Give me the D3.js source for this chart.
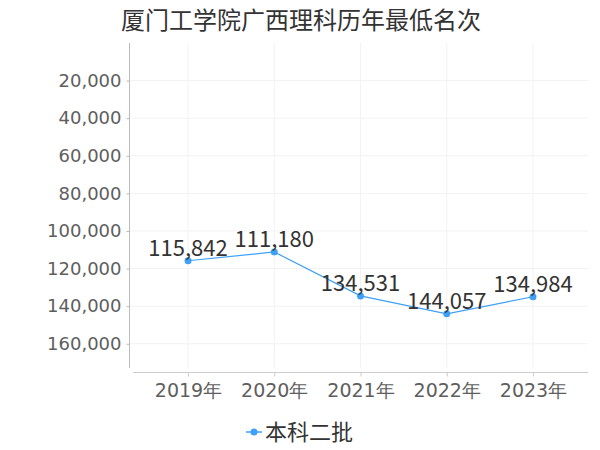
<!DOCTYPE html>
<html>
<head>
<meta charset="utf-8">
<script src="https://cdn.jsdelivr.net/npm/d3@7"></script>
<style>
  html, body { margin: 0; padding: 0; background: #fff; }
  svg { display: block; }
</style>
</head>
<body>
<svg id="chart" width="600" height="450"></svg>
<script>
const title = "厦门工学院广西理科历年最低名次";
const years = ["2019年", "2020年", "2021年", "2022年", "2023年"];
const seriesName = "本科二批";
const values = [115842, 111180, 134531, 144057, 134984];
const yTicks = [20000, 40000, 60000, 80000, 100000, 120000, 140000, 160000];

const svg = d3.select("#chart");
const color = "#3ea0f7";
const fontNum = "'DejaVu Sans', sans-serif";
const fontCJK = "'Noto Sans CJK SC', sans-serif";

const x = d3.scalePoint().domain(years).range([133, 588]).padding(0.638);
const y = d3.scaleLinear().domain([0, 172900]).range([43, 368]);

// grid
const grid = svg.append("g");
grid.selectAll("line.h").data(yTicks).enter().append("line")
  .attr("x1", 130).attr("x2", 588)
  .attr("y1", d => y(d)).attr("y2", d => y(d))
  .attr("stroke", "#f2f2f2").attr("stroke-width", 1);
grid.selectAll("line.v").data(years).enter().append("line")
  .attr("x1", d => x(d)).attr("x2", d => x(d))
  .attr("y1", 43).attr("y2", 368)
  .attr("stroke", "#f2f2f2").attr("stroke-width", 1);

// y axis
const yAxis = svg.append("g").attr("transform", "translate(129.5,0)")
  .call(d3.axisLeft(y).tickValues(yTicks).tickSize(3).tickPadding(5)
    .tickFormat(d3.format(",")));
yAxis.select(".domain").attr("stroke", "#bbb").attr("d", "M0,43V368");
yAxis.selectAll(".tick line").attr("stroke", "#bbb");
yAxis.selectAll(".tick text").attr("fill", "#5e5e5e")
  .style("font-family", fontNum).style("font-size", "18px");

// x axis
const xAxis = svg.append("g").attr("transform", "translate(0,372.5)")
  .call(d3.axisBottom(x).tickSize(4).tickPadding(7));
xAxis.select(".domain").attr("stroke", "#ccc").attr("d", "M133,0H588");
xAxis.selectAll(".tick line").attr("stroke", "#ccc");
xAxis.selectAll(".tick text").attr("fill", "#5e5e5e")
  .style("font-family", fontNum).style("font-size", "19px");

// line
const data = years.map((c, i) => ({ c, v: values[i] }));
svg.append("path").datum(data)
  .attr("fill", "none").attr("stroke", color).attr("stroke-width", 1.2)
  .attr("d", d3.line().x(d => x(d.c)).y(d => y(d.v)));
svg.selectAll("circle.pt").data(data).enter().append("circle")
  .attr("cx", d => x(d.c)).attr("cy", d => y(d.v)).attr("r", 3.5)
  .attr("fill", color);

// labels
svg.selectAll("text.lbl").data(data).enter().append("text")
  .attr("x", d => x(d.c)).attr("y", d => y(d.v) - 5)
  .attr("text-anchor", "middle")
  .attr("fill", "#333")
  .style("font-family", fontCJK).style("font-size", "22px")
  .text(d => d3.format(",")(d.v));

// title
svg.append("text").attr("x", 301).attr("y", 29).attr("text-anchor", "middle")
  .attr("fill", "#333").style("font-family", fontCJK).style("font-size", "24px")
  .text(title);

// legend
const lg = svg.append("g");
lg.append("line").attr("x1", 246).attr("x2", 262).attr("y1", 432).attr("y2", 432)
  .attr("stroke", color).attr("stroke-width", 1.5);
lg.append("circle").attr("cx", 254).attr("cy", 432).attr("r", 3.5).attr("fill", color);
lg.append("text").attr("x", 265).attr("y", 432).attr("dy", "0.35em")
  .attr("fill", "#333").style("font-family", fontCJK).style("font-size", "22px")
  .text(seriesName);
</script>
</body>
</html>
